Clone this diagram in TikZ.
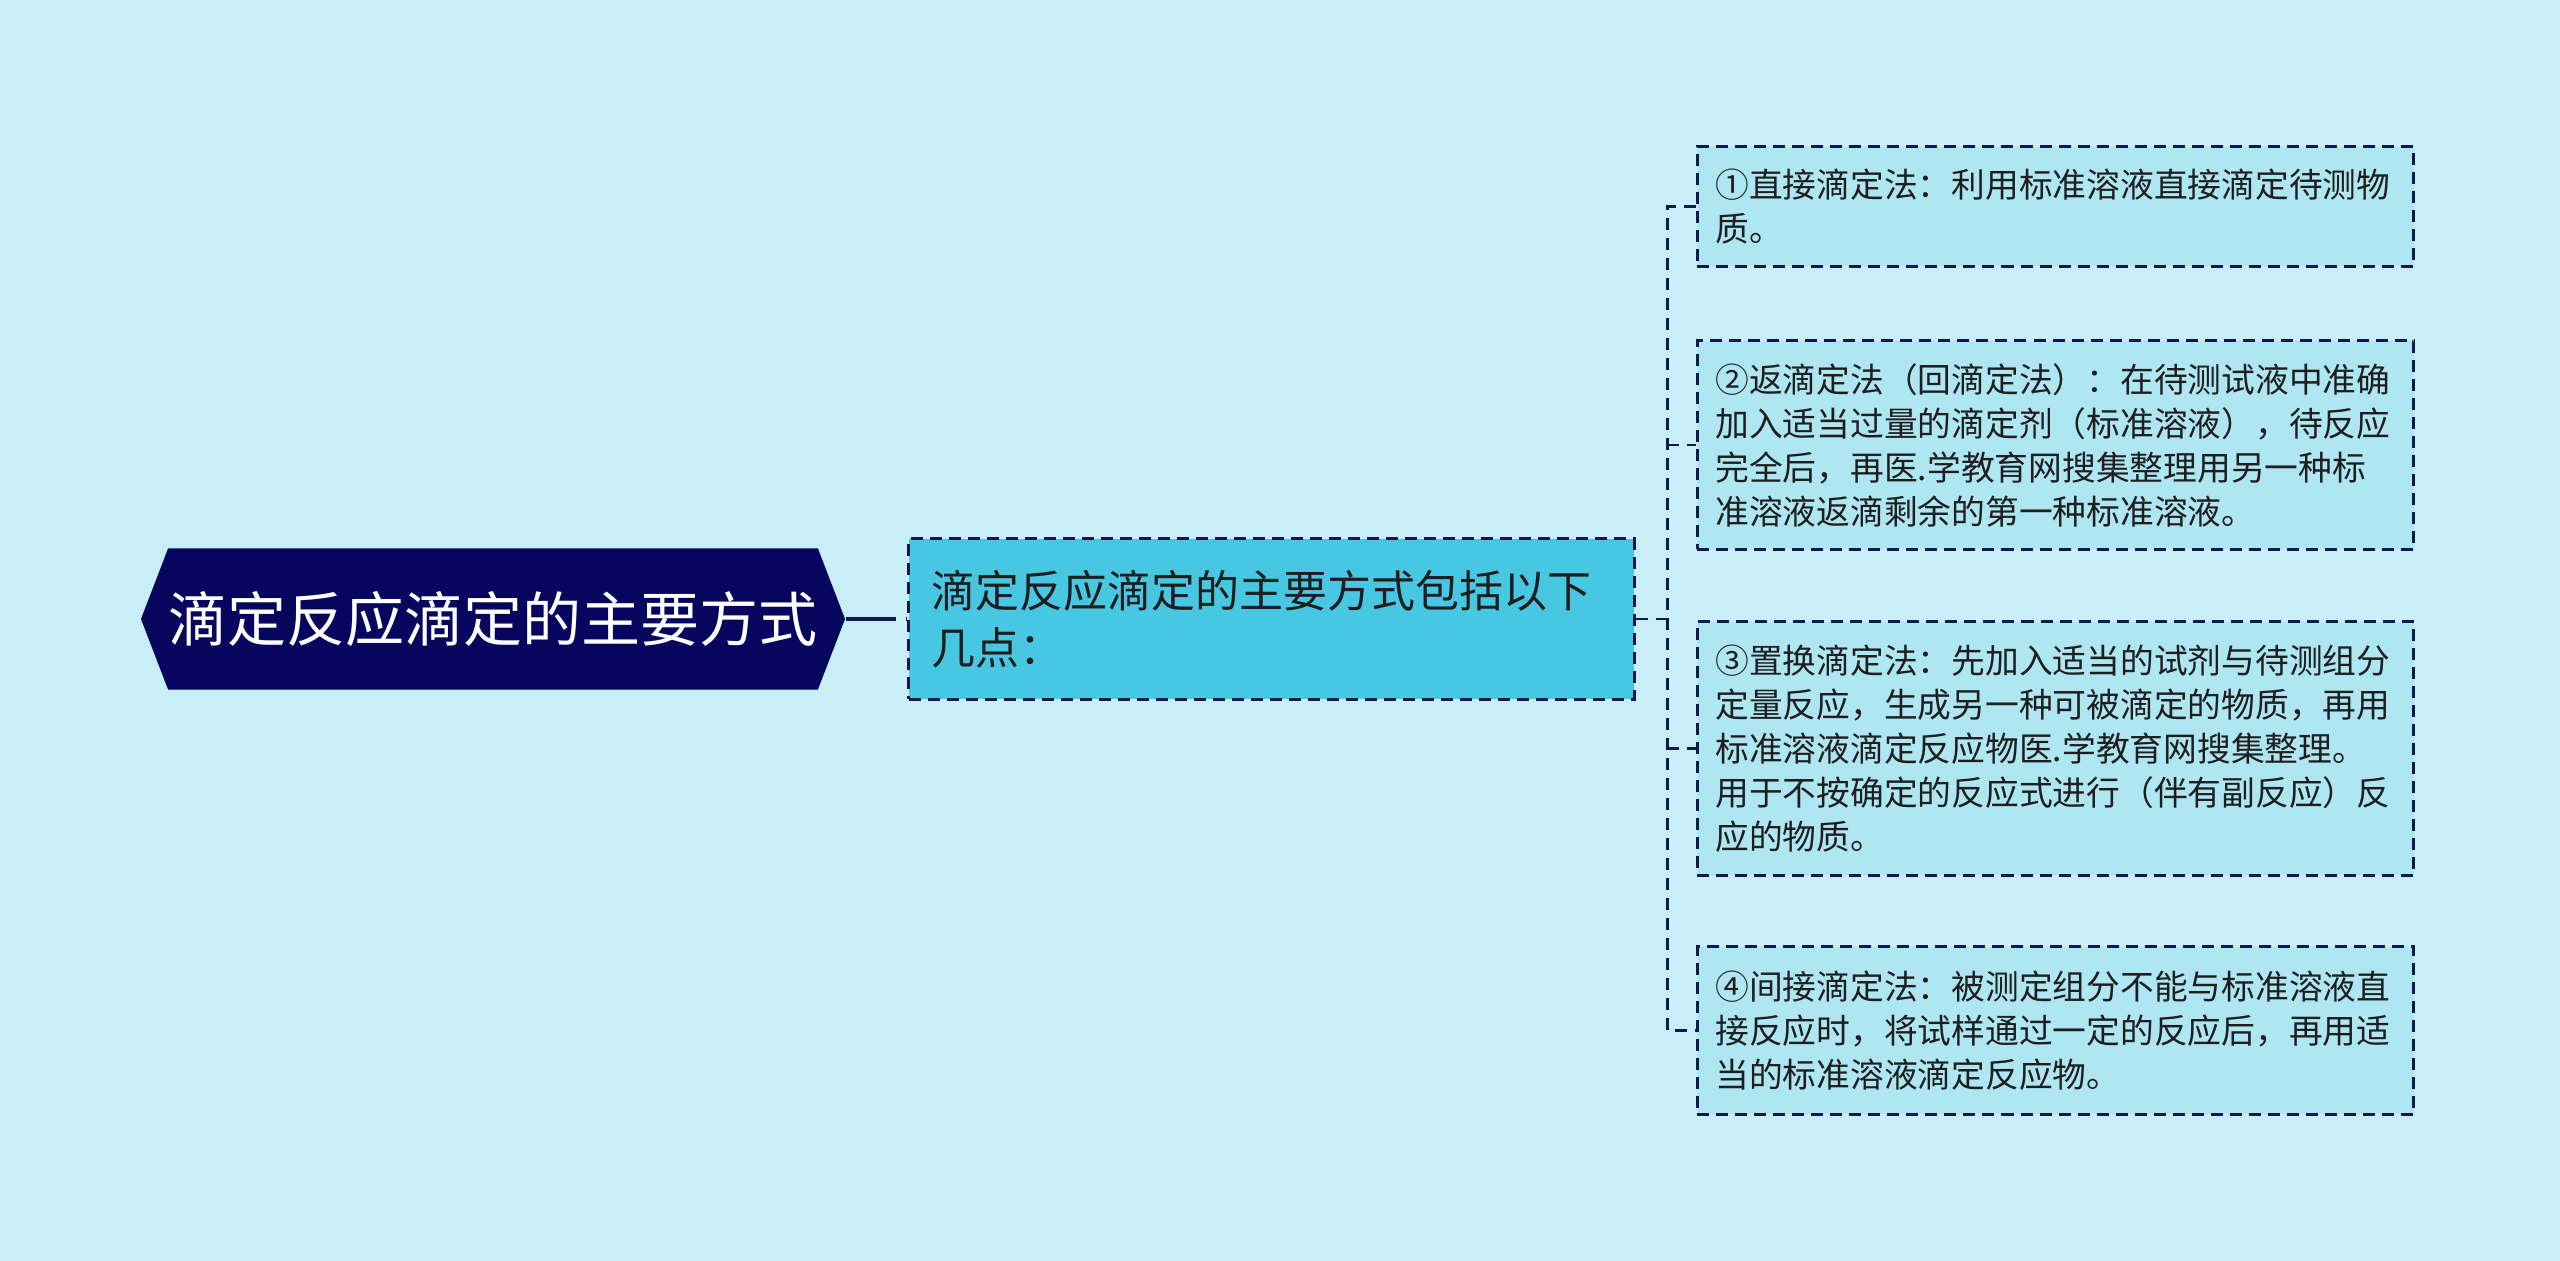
\documentclass[tikz,border=0pt]{standalone}
\usepackage{fontspec}
\setmainfont{Noto Sans CJK SC}
\usepackage{tikz}
\usetikzlibrary{shapes,shapes.symbols}
\usetikzlibrary{positioning,calc}
\definecolor{bgblue}{HTML}{C8EFF7}
\definecolor{navy}{HTML}{06065E}
\definecolor{edgenavy}{HTML}{10184E}
\definecolor{subcyan}{HTML}{48C7E2}
\definecolor{leafblue}{HTML}{AEE6F2}
\definecolor{inkdark}{HTML}{1E1E1E}
\tikzstyle{Rootnode}=[shape=signal,signal to=west and east,signal pointer angle=138,fill=navy,text=white,minimum width=7.02cm,minimum height=1.41cm,inner sep=0pt,font=\fontsize{16.8}{20}\selectfont]
\tikzstyle{Subnode}=[shape=rectangle,draw=edgenavy,line width=0.85pt,dash pattern=on 0.12cm off 0.07cm,fill=subcyan,text=inkdark,text width=6.79cm,inner xsep=0.23cm,minimum height=1.6cm,align=left,font=\fontsize{12.5}{16.2}\selectfont]
\tikzstyle{Leafnode}=[shape=rectangle,draw=edgenavy,line width=0.85pt,dash pattern=on 0.12cm off 0.07cm,fill=leafblue,text=inkdark,text width=6.8cm,inner xsep=0.18cm,align=left,font=\fontsize{9.6}{12.5}\selectfont]
\tikzstyle{mainedge}=[draw=edgenavy,line width=1pt,dash pattern=on 0.5cm off 0.1cm on 0.06cm off 0.2cm]
\tikzstyle{branchedge}=[draw=edgenavy,line width=0.85pt,dash pattern=on 0.12cm off 0.08cm]

\begin{document}
\begin{tikzpicture}[x=0.01cm,y=-0.01cm]
 \fill[bgblue] (0,0) rectangle (2560,1261);
 \useasboundingbox (0,0) rectangle (2560,1261);

 \node[Rootnode] (ROOT) at (493,619) {滴定反应滴定的主要方式};

 \node[Subnode] (SUB) at (1271.5,619) {滴定反应滴定的主要方式包括以下\\几点：};

 \node[Leafnode,minimum height=1.19cm] (b1) at (2055.5,206.5) {①直接滴定法：利用标准溶液直接滴定待测物\\质。};
 \node[Leafnode,minimum height=2.08cm] (b2) at (2055.5,445) {②返滴定法（回滴定法）：在待测试液中准确\\加入适当过量的滴定剂（标准溶液），待反应\\完全后，再医.学教育网搜集整理用另一种标\\准溶液返滴剩余的第一种标准溶液。};
 \node[Leafnode,minimum height=2.53cm] (b3) at (2055.5,748.5) {③置换滴定法：先加入适当的试剂与待测组分\\定量反应，生成另一种可被滴定的物质，再用\\标准溶液滴定反应物医.学教育网搜集整理。\\用于不按确定的反应式进行（伴有副反应）反\\应的物质。};
 \node[Leafnode,minimum height=1.67cm] (b4) at (2055.5,1030.5) {④间接滴定法：被测定组分不能与标准溶液直\\接反应时，将试样通过一定的反应后，再用适\\当的标准溶液滴定反应物。};

 \coordinate (spine) at (1667,619);

 \path[mainedge] (ROOT.east) -- (SUB.west);
 \path[branchedge] (SUB.east) -- (spine);
 \path[branchedge] (b1.west) -- (spine |- b1.west) -- (spine |- b4.west) -- (b4.west);
 \path[branchedge] (spine |- b2.west) -- (b2.west);
 \path[branchedge] (spine |- b3.west) -- (b3.west);

\end{tikzpicture}
\end{document}
